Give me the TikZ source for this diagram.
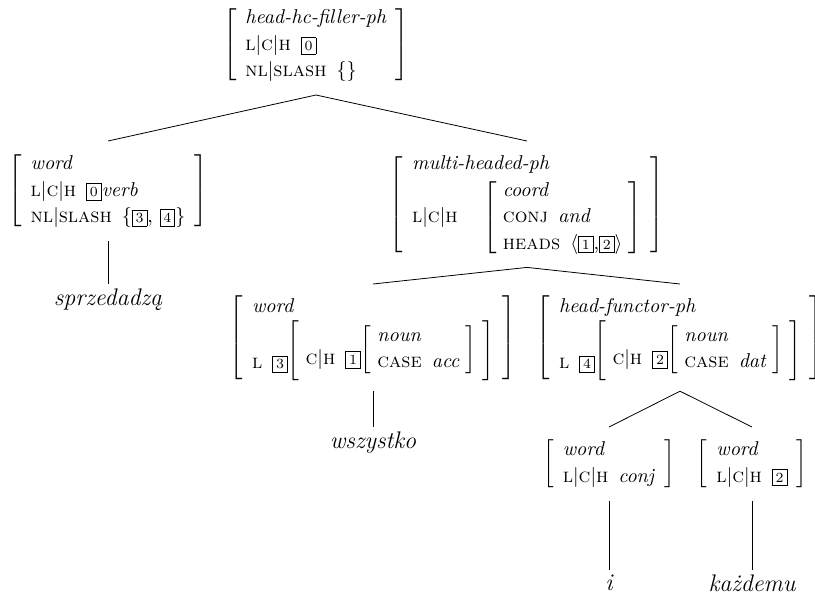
\documentclass[tikz,border=0pt]{standalone}
\usepackage{fontspec}
\usepackage{array}
\renewcommand{\arraystretch}{1.1}
\setlength{\fboxsep}{1.5pt}
% feature structures
\newcommand{\avm}[2][4.5pt]{{\setlength{\tabcolsep}{#1}$\left[\begin{tabular}{l}#2\end{tabular}\right]$}}
\newcommand{\ty}[1]{\textit{#1}}
\newcommand{\ft}[1]{\textsc{#1}}
\newcommand{\pth}{$|$}
\newcommand{\tg}[1]{\fbox{\scriptsize #1}}
% nested value: label, tag, innermost avm
\newcommand{\nest}[3]{\raisebox{6.5pt}{\avm[3pt]{\rule[-7pt]{0pt}{25pt}#1\enskip\tg{#2}\raisebox{5pt}{\avm[3pt]{#3}}}}}
\tikzset{avmnode/.style={inner sep=5pt, anchor=north},
	leaf/.style={font=\large\itshape, inner sep=2pt, anchor=north}}

\begin{document}
\begin{tikzpicture}[x=0.5pt,y=-0.5pt]
	\useasboundingbox (0,0) rectangle (815,600);
	\clip (0,0) rectangle (815,600);
	% mother
	\node[avmnode, anchor=center] (root) at (316,45) {\avm{\ty{head-hc-filler-ph}\\
		\ft{l}\pth\ft{c}\pth\ft{h}\enskip\tg{0}\\
		\ft{nl}\pth\ft{slash}\enskip$\{\}$}};
	% daughters
	\node[avmnode] (lw) at (108,141) {\avm{\ty{word}\\
		\ft{l}\pth\ft{c}\pth\ft{h}\enskip\tg{0}\ty{verb}\\
		\ft{nl}\pth\ft{slash}\enskip$\{$\tg{3}, \tg{4}$\}$}};
	\node[avmnode] (mh) at (527,141) {\avm{\ty{multi-headed-ph}\\
		\ft{l}\pth\ft{c}\pth\ft{h}\hspace{13pt}\avm[3pt]{\ty{coord}\\
			\ft{conj}\enskip\ty{and}\\
			\ft{heads}\enskip$\langle$\tg{1},\tg{2}$\rangle$}}};
	\node[leaf] (sprz) at (108,284) {sprzedadzą};
	% conjuncts
	\node[avmnode] (wsz) at (373,284) {\avm{\ty{word}\\
		\ft{l}\enskip\tg{3}\nest{\ft{c}\pth\ft{h}}{1}{\ty{noun}\\ \ft{case}\enskip\ty{acc}}}};
	\node[avmnode] (hf) at (680,284) {\avm{\ty{head-functor-ph}\\
		\ft{l}\enskip\tg{4}\nest{\ft{c}\pth\ft{h}}{2}{\ty{noun}\\ \ft{case}\enskip\ty{dat}}}};
	\node[leaf] (wszy) at (373,427) {wszystko};
	\node[avmnode] (cj) at (609,427) {\avm{\ty{word}\\
		\ft{l}\pth\ft{c}\pth\ft{h}\enskip\ty{conj}}};
	\node[avmnode] (w2) at (752,427) {\avm{\ty{word}\\
		\ft{l}\pth\ft{c}\pth\ft{h}\enskip\tg{2}}};
	\node[leaf] (i) at (609,570) {i};
	\node[leaf] (kaz) at (752,570) {każdemu};
	\foreach \a/\b in {root/lw, root/mh, lw/sprz, mh/wsz, mh/hf, wsz/wszy, hf/cj, hf/w2, cj/i, w2/kaz}
		\draw (\a.south) -- (\b.north);
\end{tikzpicture}
\end{document}
